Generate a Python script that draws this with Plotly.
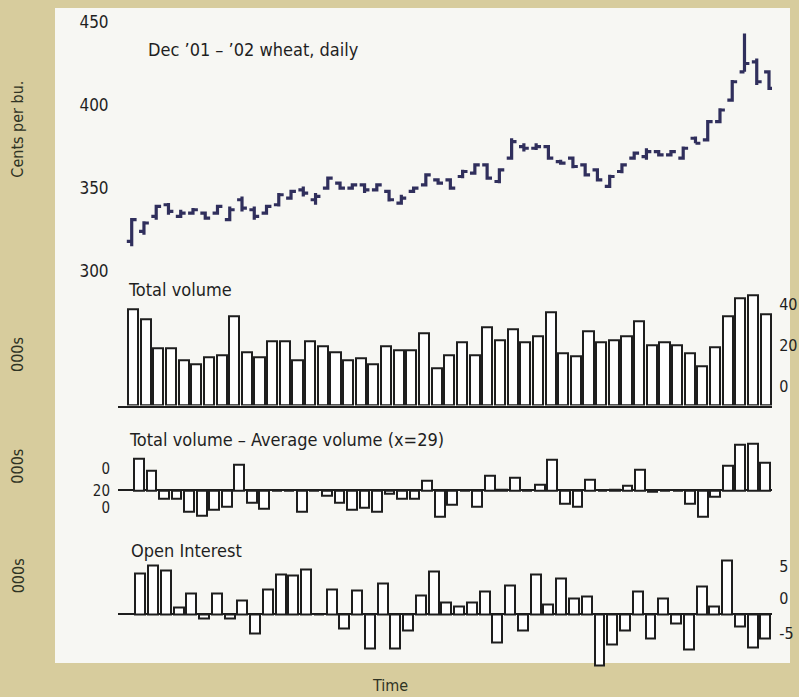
import plotly.graph_objects as go

# ---------------- data ----------------
PRICE_LOW = [315, 322, 331, 334, 332, 334, 331, 334, 330, 336, 331, 334, 339, 343, 345, 340,
             349, 349, 349, 347, 348, 342, 340, 347, 351, 352, 349, 356, 358, 355, 353, 367,
             372, 373, 367, 364, 362, 357, 354, 350, 359, 367, 367, 369, 369, 367, 377, 378,
             389, 402, 420, 412, 409]
PRICE_HIGH = [332, 330, 340, 341, 337, 338, 336, 340, 339, 345, 339, 340, 347, 349, 351, 347,
              357, 354, 353, 353, 353, 349, 346, 351, 359, 356, 356, 361, 365, 365, 362, 380,
              377, 377, 376, 367, 369, 365, 362, 358, 365, 372, 374, 373, 373, 375, 381, 391,
              398, 415, 443, 428, 421]
PRICE_OPEN = [318, 324, 333, 340, 333, 335, 335, 335, 331, 343, 337, 335, 340, 344, 349, 343,
              350, 353, 350, 352, 349, 348, 341, 348, 352, 355, 355, 357, 359, 364, 354, 368,
              375, 374, 375, 366, 368, 364, 361, 351, 360, 368, 369, 372, 370, 368, 380, 379,
              390, 403, 420, 426, 420]
PRICE_CLOSE = [331, 329, 339, 336, 335, 337, 332, 339, 337, 338, 333, 339, 346, 348, 347, 345,
               356, 350, 352, 349, 352, 343, 344, 350, 358, 353, 350, 360, 364, 356, 361, 378,
               374, 375, 368, 365, 363, 358, 355, 357, 364, 371, 372, 370, 372, 374, 377, 390,
               397, 414, 425, 414, 410]

# total volume (000s), measured from the panel floor
VOLUME = [46.4, 41.6, 27.6, 27.6, 21.6, 20.0, 23.2, 24.4, 43.2, 25.6, 23.2, 30.8, 30.8, 21.6,
          30.8, 28.5, 25.6, 21.6, 22.8, 20.0, 28.5, 26.4, 26.4, 34.9, 18.0, 24.4, 30.4, 24.4,
          37.6, 31.6, 36.5, 30.4, 33.6, 44.8, 25.3, 23.7, 35.6, 30.4, 31.6, 33.6, 40.8, 28.8,
          30.4, 29.2, 25.3, 18.9, 28.0, 42.9, 51.7, 53.2, 44.0]

# total volume - average volume (x=29)
VOL_DIFF = [32, 20, -8, -8, -22, -26, -20, -16, 26, -12, -18, 0, 0, -22, 0, -5, -12, -20,
            -17, -22, -3, -8, -8, 10, -27, -14, 0, -16, 15, 1, 13, 0, 6, 31, -13, -16, 11, 0,
            1, 5, 21, -1, 0, -0.5, -13, -27, -6, 25, 46, 47, 28]

# open interest change (000s)
OPEN_INT = [6.15, 7.3, 6.65, 1.0, 3.15, -0.6, 3.15, -0.7, 2.15, -2.85, 3.8, 6.0, 5.9, 6.8,
            0, 3.8, -2.2, 3.65, -5.2, 4.65, -5.2, -2.5, 2.9, 6.4, 1.8, 1.1, 1.85, 3.4, -4.25,
            4.4, -2.4, 6.0, 1.5, 5.35, 2.4, 2.65, -7.75, -4.5, -2.5, 3.5, -3.6, 2.35, -1.4,
            -5.25, 4.15, 1.25, 8.1, -1.9, -5.0, -3.6]

PRICE_TICKS = [300, 350, 400, 450]
VOL_TICK_TEXT = ["0", "20", "40"]
DIFF_TICK_TEXT = ["0", "20", "0"]
OI_TICK_TEXT = ["5", "0", "-5"]

# ---------------- layout helpers ----------------
W, H = 799, 697
FONT = "DejaVu Sans Condensed, Liberation Sans Narrow, Arial Narrow, sans-serif"
INK = "#1f1f1f"
BAR_INK = "#1e1e1e"
PRICE_INK = "#302f5c"
BEIGE = "#d7cc9d"
WHITE = "#f7f7f3"


def fx(p):
    return p / W


def fy(p):
    return 1 - p / H


XL, XR = 118, 772
XDOM = [fx(XL), fx(XR)]

fig = go.Figure()

days_p = list(range(1, len(PRICE_LOW) + 1))
days_v = list(range(1, len(VOLUME) + 1))
days_d = list(range(1, len(VOL_DIFF) + 1))
days_o = list(range(1, len(OPEN_INT) + 1))

fig.add_trace(go.Ohlc(
    x=days_p, open=PRICE_OPEN, high=PRICE_HIGH, low=PRICE_LOW, close=PRICE_CLOSE,
    increasing=dict(line=dict(color=PRICE_INK, width=3.2)),
    decreasing=dict(line=dict(color=PRICE_INK, width=3.2)),
    tickwidth=0.4, xaxis="x", yaxis="y", showlegend=False, hoverinfo="skip"))

bar_style = dict(marker=dict(color="white", line=dict(color=BAR_INK, width=2)),
                 showlegend=False, hoverinfo="skip")

fig.add_trace(go.Bar(x=days_v, y=VOLUME, width=0.8, xaxis="x2", yaxis="y2", **bar_style))
fig.add_trace(go.Bar(x=days_d, y=VOL_DIFF, width=0.78, xaxis="x3", yaxis="y3", **bar_style))
fig.add_trace(go.Bar(x=days_o, y=OPEN_INT, width=0.78, xaxis="x4", yaxis="y4", **bar_style))

tickfont = dict(family=FONT, size=17, color=INK)
hidden_x = dict(domain=XDOM, showgrid=False, zeroline=False, showticklabels=False,
                ticks="", showline=False, fixedrange=True)


def xrange(n, first_px, last_px):
    step = (last_px - first_px) / (n - 1)
    return [1 - (first_px - XL) / step, n + (XR - last_px) / step]


# panel scales (pixels per unit)
PRICE_PX = 83.33 / 50      # px per cent
VOL_PX = 41.7 / 20         # px per 000s
DIFF_PX = 1.0
OI_PX = 6.67

fig.update_layout(
    width=W, height=H,
    margin=dict(l=0, r=0, t=0, b=0),
    paper_bgcolor=BEIGE, plot_bgcolor="rgba(0,0,0,0)",
    bargap=0,
    xaxis=dict(hidden_x, range=xrange(len(PRICE_LOW), 131.7, 769),
               rangeslider=dict(visible=False), anchor="y"),
    yaxis=dict(domain=[fy(280), fy(12)],
               range=[450 - (280 - 22) / PRICE_PX, 450 + (22 - 12) / PRICE_PX],
               tickvals=PRICE_TICKS, ticks="outside", ticklen=5, tickcolor="rgba(0,0,0,0)",
               showgrid=False, zeroline=False, showline=False, tickfont=tickfont,
               anchor="x", fixedrange=True),
    xaxis2=dict(hidden_x, range=xrange(len(VOLUME), 133, 765.7),
                showline=True, linecolor=BAR_INK, linewidth=2, anchor="y2"),
    yaxis2=dict(domain=[fy(406.7), fy(285)], range=[0, (406.7 - 285) / VOL_PX], side="right",
                tickvals=[(406.7 - 388) / VOL_PX, (406.7 - 346.7) / VOL_PX,
                          (406.7 - 305) / VOL_PX],
                ticktext=VOL_TICK_TEXT, ticks="outside", ticklen=3,
                tickcolor="rgba(0,0,0,0)", showgrid=False, zeroline=False, showline=False,
                tickfont=dict(tickfont, size=16), anchor="x2", fixedrange=True),
    xaxis3=dict(hidden_x, range=xrange(len(VOL_DIFF), 139, 765.3), anchor="y3"),
    yaxis3=dict(domain=[fy(525), fy(440)],
                range=[(491.7 - 525) / DIFF_PX, (491.7 - 440) / DIFF_PX],
                tickvals=[21.7, 0, -17.5], ticktext=DIFF_TICK_TEXT, ticks="outside",
                ticklen=4, tickcolor="rgba(0,0,0,0)", showgrid=False, zeroline=True,
                zerolinecolor=BAR_INK, zerolinewidth=2, showline=False,
                tickfont=dict(tickfont, size=15), anchor="x3", fixedrange=True),
    xaxis4=dict(hidden_x, range=xrange(len(OPEN_INT), 140.3, 765.3), anchor="y4"),
    yaxis4=dict(domain=[fy(670), fy(550)],
                range=[(616 - 670) / OI_PX, (616 - 550) / OI_PX], side="right",
                tickvals=[(616 - 568.3) / OI_PX, (616 - 600) / OI_PX, (616 - 635) / OI_PX],
                ticktext=OI_TICK_TEXT, ticks="outside", ticklen=3,
                tickcolor="rgba(0,0,0,0)", showgrid=False, zeroline=True,
                zerolinecolor=BAR_INK, zerolinewidth=2, showline=False,
                tickfont=dict(tickfont, size=16), anchor="x4", fixedrange=True),
    shapes=[dict(type="rect", xref="paper", yref="paper", x0=fx(55), x1=fx(790),
                 y0=fy(665), y1=fy(8), fillcolor=WHITE, line=dict(width=0), layer="below")],
)

title_font = dict(family=FONT, size=18, color=INK)
side_font = dict(family=FONT, size=16, color="#2f3324")
annots = [
    dict(text="Dec ’01 – ’02 wheat, daily", x=fx(146), y=fy(50), font=title_font),
    dict(text="Total volume", x=fx(126), y=fy(290), font=title_font),
    dict(text="Total volume – Average volume (x=29)", x=fx(127), y=fy(441), font=title_font),
    dict(text="Open Interest", x=fx(129), y=fy(552), font=title_font),
]
for a in annots:
    fig.add_annotation(xref="paper", yref="paper", xanchor="left", yanchor="middle",
                       showarrow=False, **a)

for txt, yc in [("Cents per bu.", 130), ("000s", 356), ("000s", 468), ("000s", 578)]:
    fig.add_annotation(text=txt, xref="paper", yref="paper", x=fx(18), y=fy(yc),
                       textangle=-90, showarrow=False, font=side_font,
                       xanchor="center", yanchor="middle")

fig.add_annotation(text="Time", xref="paper", yref="paper", x=fx(390), y=fy(687),
                   showarrow=False, font=dict(family=FONT, size=16, color="#2f3324"),
                   xanchor="center", yanchor="middle")

fig.write_html(
    "out.html",
    config=dict(displayModeBar=False),
    post_script="document.body.style.margin='0';document.body.style.background='%s';" % BEIGE,
)
